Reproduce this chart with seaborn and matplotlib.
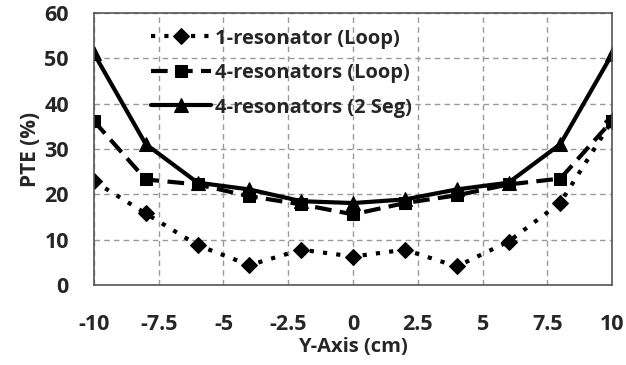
import matplotlib
matplotlib.use("Agg")
import matplotlib.pyplot as plt
import seaborn as sns
import pandas as pd

x_cm = [-10, -8, -6, -4, -2, 0, 2, 4, 6, 8, 10]
one_res_loop = [22.9, 15.8, 8.8, 4.4, 7.8, 6.3, 7.8, 4.1, 9.6, 18.2, 36.3]
four_res_loop = [36.2, 23.3, 22.2, 19.6, 17.8, 15.6, 18.1, 19.8, 22.2, 23.5, 36.3]
four_res_2seg = [51.1, 31.1, 22.6, 21.1, 18.5, 18.1, 18.9, 21.1, 22.6, 31.1, 51.0]
series_names = ["1-resonator (Loop)", "4-resonators (Loop)", "4-resonators (2 Seg)"]
x_ticks = [-10, -7.5, -5, -2.5, 0, 2.5, 5, 7.5, 10]
x_tick_labels = ["-10", "-7.5", "-5", "-2.5", "0", "2.5", "5", "7.5", "10"]
y_ticks = [0, 10, 20, 30, 40, 50, 60]

sns.set_theme(style="white")
plt.rcParams['font.family'] = ['Open Sans', 'DejaVu Sans']

df = pd.DataFrame({
    "x": x_cm * 3,
    "PTE": one_res_loop + four_res_loop + four_res_2seg,
    "series": [series_names[0]] * 11 + [series_names[1]] * 11 + [series_names[2]] * 11,
})

fig, ax = plt.subplots(figsize=(6.26, 3.65), dpi=100)
fig.subplots_adjust(left=0.15, right=0.978, top=0.964, bottom=0.219)

styles = {
    series_names[0]: dict(ls=(0, (1, 2.2)), marker="D", ms=8, lw=3.0),
    series_names[1]: dict(ls=(0, (4, 2)), marker="s", ms=8, lw=3.0),
    series_names[2]: dict(ls="-", marker="^", ms=10, lw=3.0),
}
for name in series_names:
    st = styles[name]
    sns.lineplot(data=df[df.series == name], x="x", y="PTE", ax=ax, color="black",
                 linestyle=st["ls"], marker=st["marker"], markersize=st["ms"],
                 linewidth=st["lw"], markeredgecolor="black", label=name)

ax.set_xlim(-10, 10)
ax.set_ylim(0, 60)
ax.set_xticks(x_ticks)
ax.set_xticklabels(x_tick_labels)
ax.set_yticks(y_ticks)
ax.tick_params(axis="x", labelsize=15.5, length=0, pad=21)
ax.tick_params(axis="y", labelsize=15.5, length=0, pad=18)
for lab in ax.get_xticklabels() + ax.get_yticklabels():
    lab.set_fontweight("bold")
ax.grid(True, color="#999999", linestyle=(0, (4, 3)), linewidth=1.0)
for s in ax.spines.values():
    s.set_color("#555555")
    s.set_linewidth(1.2)
ax.set_xlabel("Y-Axis (cm)", fontsize=14.5, fontweight="bold", labelpad=1)
ax.set_ylabel("PTE (%)", fontsize=15, fontweight="bold", labelpad=2)

leg = ax.legend(loc="upper left", bbox_to_anchor=(0.075, 1.01), frameon=False,
                fontsize=14.5, handlelength=3.0, handletextpad=0.2, labelspacing=0.72)
for t in leg.get_texts():
    t.set_fontweight("bold")

fig.savefig("out.png", dpi=100)
